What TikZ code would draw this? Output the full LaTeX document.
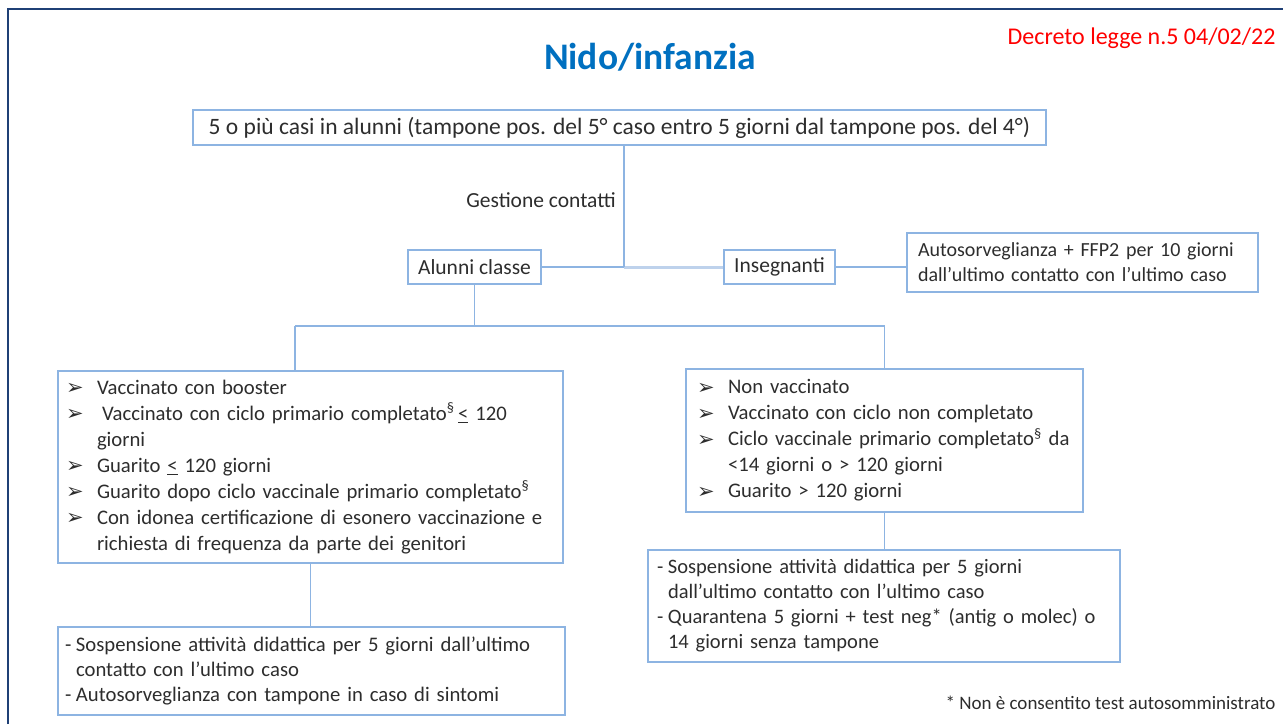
\documentclass[tikz,border=0pt]{standalone}
\usepackage{fontspec}
\setmainfont{Carlito}
\newfontfamily\dvfont{DejaVu Sans}
\definecolor{boxc}{RGB}{141,180,226}
\definecolor{boxlight}{RGB}{190,210,236}
\definecolor{txt}{RGB}{45,45,45}
\definecolor{titleblue}{RGB}{0,112,192}
\definecolor{framec}{RGB}{31,64,118}
\newcommand\bul{\makebox[31pt][l]{\raisebox{-0.5pt}{\dvfont\fontsize{21}{26}\selectfont ➢}}}
\newcommand\bulind{\hspace*{31pt}}
\newcommand\dsh{\makebox[11pt][l]{-}}
\newcommand\dshind{\hspace*{11pt}}
\begin{document}
\begin{tikzpicture}[x=1pt,y=-1pt,
  boxst/.style={draw=boxc, line width=1.2pt, inner sep=0pt, text=txt},
  body/.style={font=\fontsize{20.7}{26}\selectfont},
  conn/.style={draw=boxc, line width=1.2pt},
  connlight/.style={draw=boxlight, line width=3pt}]
\useasboundingbox (0,0) rectangle (1283,724);
% frame
\draw[framec, line width=2.5pt] (8,724) -- (8,9) -- (1283,9);
% title and header
\node[text=titleblue, font=\fontsize{37.5}{42}\selectfont\bfseries] (title) at (650,57) {Nido/infanzia};
\node[text=red, font=\fontsize{24}{28}\selectfont, anchor=east] (decr) at (1279,38) {Decreto legge n.5 04/02/22};
% boxes
\node[boxst, font=\fontsize{23.5}{28}\selectfont, minimum width=853pt, minimum height=35pt] (top) at (619.5,127.5)
  {5 o più casi in alunni (tampone pos. del 5° caso entro 5 giorni dal tampone pos. del 4°)};
\node[text=txt, font=\fontsize{21.5}{26}\selectfont] (gest) at (541,200) {Gestione contatti};
\node[boxst, font=\fontsize{21.5}{26}\selectfont, minimum width=133pt, minimum height=34pt] (alunni) at (474.5,267) {Alunni classe};
\node[boxst, font=\fontsize{21.5}{26}\selectfont, minimum width=111pt, minimum height=34pt] (ins) at (779.5,267) {Insegnanti};
\node[boxst, minimum width=351pt, minimum height=59pt, inner xsep=11pt, text width=329pt, align=left, font=\fontsize{20}{25}\selectfont] (auto) at (1082.5,262.5)
  {\mbox{Autosorveglianza + FFP2 per 10 giorni}\\\mbox{dall’ultimo contatto con l’ultimo caso}};
\node[boxst, body, minimum width=505pt, minimum height=192pt, inner xsep=8pt, text width=489pt, align=left] (lbox) at (310.5,467)
  {\bul\mbox{Vaccinato con booster}\\
   \bul\mbox{\hspace{5pt}Vaccinato con ciclo primario completato\textsuperscript{§}\,\underline{<} 120}\\
   \bulind giorni\\
   \bul\mbox{Guarito \underline{<} 120 giorni}\\
   \bul\mbox{Guarito dopo ciclo vaccinale primario completato\textsuperscript{§}}\\
   \bul\mbox{Con idonea certificazione di esonero vaccinazione e}\\
   \bulind\mbox{richiesta di frequenza da parte dei genitori}};
\node[boxst, body, minimum width=397pt, minimum height=143pt, inner xsep=11pt, text width=375pt, align=left] (rbox) at (884.5,440.5)
  {\bul\mbox{Non vaccinato}\\
   \bul\mbox{Vaccinato con ciclo non completato}\\
   \bul\mbox{Ciclo vaccinale primario completato\textsuperscript{§} da}\\
   \bulind\mbox{<14 giorni o > 120 giorni}\\
   \bul\mbox{Guarito > 120 giorni}};
\node[boxst, minimum width=507pt, minimum height=88pt, inner xsep=7pt, text width=493pt, align=left, font=\fontsize{20.7}{25}\selectfont] (lbot) at (311.5,671)
  {\dsh\mbox{Sospensione attività didattica per 5 giorni dall’ultimo}\\
   \dshind\mbox{contatto con l’ultimo caso}\\
   \dsh\mbox{Autosorveglianza con tampone in caso di sintomi}};
\node[boxst, minimum width=472pt, minimum height=112pt, inner xsep=9pt, text width=454pt, align=left, font=\fontsize{20.5}{25}\selectfont] (rbot) at (884,606)
  {\dsh\mbox{Sospensione attività didattica per 5 giorni}\\
   \dshind\mbox{dall’ultimo contatto con l’ultimo caso}\\
   \dsh\mbox{Quarantena 5 giorni + test neg* (antig o molec) o}\\
   \dshind\mbox{14 giorni senza tampone}};
\node[text=txt, font=\fontsize{19}{22}\selectfont, anchor=east] (foot) at (1279,703) {* Non è consentito test autosomministrato};
% connector points
\coordinate (j1) at (624,267);
\coordinate (j2) at (474.5,326);
\coordinate (j3) at (295,326);
\coordinate (j4) at (884.5,326);
% connectors
\draw[connlight] (j1) -- (ins.west);
\draw[conn] (top.south -| j1) -- (j1);
\draw[conn] (alunni.east) -- (j1);
\draw[conn] (ins.east) -- (ins.east -| auto.west);
\draw[conn] (alunni.south) -- (j2);
\draw[conn] (j3) -- (j4);
\draw[conn] (j3) -- (j3 |- lbox.north);
\draw[conn] (j4) -- (rbox.north);
\draw[conn] (lbox.south) -- (lbox.south |- lbot.north);
\draw[conn] (rbox.south) -- (rbox.south |- rbot.north);
\end{tikzpicture}
\end{document}
